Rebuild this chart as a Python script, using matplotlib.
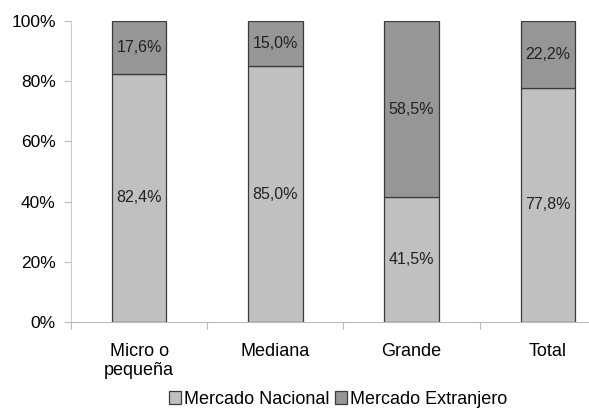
import matplotlib.pyplot as plt
import numpy as np

categories = ["Micro o\npequeña", "Mediana", "Grande", "Total"]
nacional = [82.4, 85.0, 41.5, 77.8]
extranjero = [17.6, 15.0, 58.5, 22.2]
series_names = ["Mercado Nacional", "Mercado Extranjero"]

plt.rcParams['font.family'] = ['Liberation Sans', 'DejaVu Sans']

fig = plt.figure(figsize=(5.89, 4.08), dpi=100)
ax = fig.add_axes([71/589, 1 - 322/408, 545/589, 301/408])

x = np.arange(len(categories))
light = '#c0c0c0'
dark = '#969696'
edge = '#3a3a3a'

b1 = ax.bar(x, nacional, width=0.4, color=light, edgecolor=edge, linewidth=0.9,
            label=series_names[0])
b2 = ax.bar(x, extranjero, width=0.4, bottom=nacional, color=dark, edgecolor=edge,
            linewidth=0.9, label=series_names[1])

for i in range(len(categories)):
    ax.text(x[i], nacional[i] / 2, f"{nacional[i]:.1f}%".replace('.', ','),
            ha='center', va='center', fontsize=11.5, color='#222222')
    ax.text(x[i], nacional[i] + extranjero[i] / 2, f"{extranjero[i]:.1f}%".replace('.', ','),
            ha='center', va='center', fontsize=11.5, color='#222222')

ax.set_xlim(-0.5, len(categories) - 0.5)
ax.set_ylim(0, 100)
ax.set_yticks(range(0, 101, 20))
ax.set_yticklabels([f"{v}%" for v in range(0, 101, 20)], fontsize=12.5)

# ticks between categories, labels at centers
ax.set_xticks(np.arange(-0.5, len(categories), 1.0))
ax.set_xticklabels([])
ax.set_xticks(x, minor=True)
ax.set_xticklabels(categories, minor=True, fontsize=13, linespacing=1.15)
ax.tick_params(axis='x', which='minor', length=0, pad=15)
ax.tick_params(axis='x', which='major', length=5, color='#bbbbbb')
ax.tick_params(axis='y', length=5, color='#bbbbbb', pad=6)

for s in ['top', 'right']:
    ax.spines[s].set_visible(False)
ax.spines['left'].set_color('#cccccc')
ax.spines['bottom'].set_color('#bbbbbb')

fig.legend(handles=[b1, b2], loc='center', bbox_to_anchor=(338/589, 1 - 399/408),
           ncol=2, frameon=False, fontsize=13, handlelength=0.7, handleheight=0.7,
           handletextpad=0.15, columnspacing=0.3, borderpad=0)

fig.savefig("out.png", dpi=100)
